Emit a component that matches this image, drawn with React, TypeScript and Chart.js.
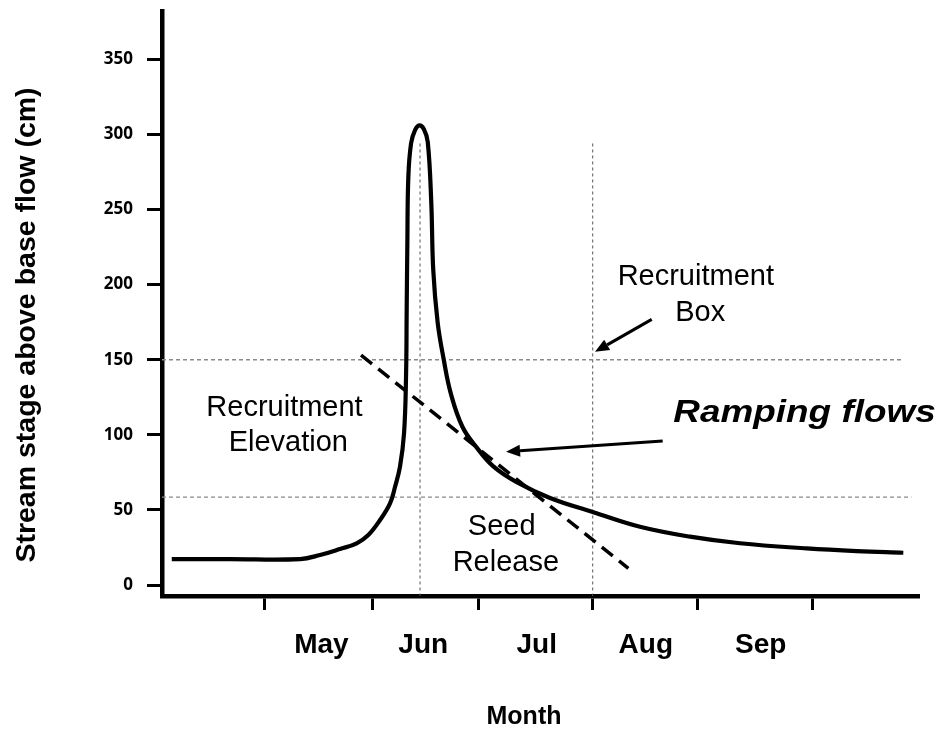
import React, { useEffect, useRef } from "react";
import { Chart, registerables } from "chart.js";

Chart.register(...registerables);

// ---- Axis definitions (x in months, 1 = start of May) ----
const monthLabels = ["May", "Jun", "Jul", "Aug", "Sep"];
const monthLabelPositions = [1.52, 2.449, 3.484, 4.478, 5.526];
const monthBoundaries = [1.0, 1.985, 2.952, 3.995, 4.952, 6.0];
const yTickValues = [0, 50, 100, 150, 200, 250, 300, 350];
const xRange = [0.067, 6.969];
const yRange = [-7.3, 382.2];

// ---- Hydrograph (stream stage above base flow, cm) ----
const flowX = [
  0.156, 0.687, 1.326, 1.508, 1.69, 1.842, 1.948, 2.055, 2.146, 2.192, 2.237,
  2.274, 2.292, 2.298, 2.304, 2.313, 2.338, 2.374, 2.413, 2.455, 2.49, 2.522,
  2.54, 2.58, 2.636, 2.7, 2.806, 2.937, 3.088, 3.301, 3.605, 4.0, 4.425,
  4.881, 5.337, 5.945, 6.401, 6.826,
];
const flowY = [
  17.3, 17.3, 17.3, 20.0, 24.0, 27.8, 33.3, 43.3, 54.4, 65.4, 78.8, 101.2,
  138.7, 183.1, 227.7, 271.8, 294.1, 302.9, 306.0, 303.5, 295.0, 255.0, 210.0,
  175.0, 150.0, 127.6, 105.4, 91.5, 79.0, 68.5, 58.0, 48.5, 38.8, 32.2, 27.8,
  24.4, 22.6, 21.5,
];

// ---- Reference levels / times ----
const recruitmentElevation = 150;
const seedReleaseLevel = 58.5;
const peakTime = 2.4196;
const recruitmentBoxTime = 3.994;
const refLineTop = 294;
const upperRefEnd = 6.83;
const lowerRefEnd = 6.9;

// ---- Ramping-rate dashed line ----
const rampX = [1.882, 4.319];
const rampY = [153.1, 11.1];

// ---- Arrows (data coordinates: from -> tip) ----
const arrowFromX = [4.532, 4.632];
const arrowFromY = [176.9, 95.9];
const arrowTipX = [4.015, 3.204];
const arrowTipY = [155.3, 88.7];

// ---- Text annotations ----
const noteTexts = ["Recruitment", "Elevation", "Recruitment", "Box", "Seed", "Release", "Ramping flows"];
const noteX = [1.184, 1.219, 4.934, 4.974, 3.164, 3.202, 5.925];
const noteY = [112.5, 89.2, 199.7, 175.8, 33.3, 9.3, 108.7];

const SANS = "'Liberation Sans', Arial, Helvetica, sans-serif";

const annotationPlugin = {
  id: "sketchAnnotations",
  afterDatasetsDraw(chart: any) {
    const { ctx, scales } = chart;
    const xs = scales.x;
    const ys = scales.y;
    ctx.save();
    // arrows
    ctx.strokeStyle = "#000";
    ctx.fillStyle = "#000";
    ctx.lineWidth = 3;
    for (let i = 0; i < arrowFromX.length; i++) {
      const x1 = xs.getPixelForValue(arrowFromX[i]);
      const y1 = ys.getPixelForValue(arrowFromY[i]);
      const x2 = xs.getPixelForValue(arrowTipX[i]);
      const y2 = ys.getPixelForValue(arrowTipY[i]);
      const ang = Math.atan2(y2 - y1, x2 - x1);
      const headLen = 14;
      const headW = 6;
      const bx = x2 - headLen * Math.cos(ang);
      const by = y2 - headLen * Math.sin(ang);
      ctx.beginPath();
      ctx.moveTo(x1, y1);
      ctx.lineTo(bx, by);
      ctx.stroke();
      ctx.beginPath();
      ctx.moveTo(x2, y2);
      ctx.lineTo(bx + headW * Math.sin(ang), by - headW * Math.cos(ang));
      ctx.lineTo(bx - headW * Math.sin(ang), by + headW * Math.cos(ang));
      ctx.closePath();
      ctx.fill();
    }
    // notes
    ctx.textAlign = "center";
    ctx.textBaseline = "alphabetic";
    for (let i = 0; i < noteTexts.length; i++) {
      const px = xs.getPixelForValue(noteX[i]);
      const py = ys.getPixelForValue(noteY[i]);
      const ramp = noteTexts[i] === "Ramping flows";
      ctx.font = ramp ? `italic bold 31px ${SANS}` : `29px ${SANS}`;
      ctx.save();
      ctx.translate(px, py);
      if (ramp) ctx.scale(1.19, 1);
      ctx.fillText(noteTexts[i], 0, 0);
      ctx.restore();
    }
    ctx.restore();
  },
  afterDraw(chart: any) {
    const { ctx, chartArea } = chart;
    ctx.save();
    ctx.fillStyle = "#000";
    // x-axis title
    ctx.font = `bold 25px ${SANS}`;
    ctx.textAlign = "center";
    ctx.textBaseline = "alphabetic";
    ctx.fillText("Month", chartArea.left + 362, chartArea.bottom + 128);
    // y-axis title
    ctx.translate(27, chartArea.top + 314);
    ctx.rotate(-Math.PI / 2);
    ctx.font = `bold 28.5px ${SANS}`;
    ctx.textBaseline = "middle";
    ctx.fillText("Stream stage above base flow (cm)", 0, 0);
    ctx.restore();
  },
};

export default function App() {
  const canvasRef = useRef<HTMLCanvasElement | null>(null);

  useEffect(() => {
    const canvas = canvasRef.current;
    if (!canvas) return;

    const flowData = flowX.map((v, i) => ({ x: v, y: flowY[i] }));
    const rampData = rampX.map((v, i) => ({ x: v, y: rampY[i] }));
    const refStyle = {
      borderColor: "#8a8a8a",
      borderWidth: 1.3,
      borderDash: [4, 3],
      pointRadius: 0,
      tension: 0,
      fill: false,
    };
    const vStyle = {
      borderColor: "#555",
      borderWidth: 1,
      borderDash: [3, 3],
      pointRadius: 0,
      tension: 0,
      fill: false,
    };

    const chart = new Chart(canvas, {
      type: "line",
      data: {
        datasets: [
          {
            label: "Stream stage",
            data: flowData,
            borderColor: "#000",
            borderWidth: 4.2,
            pointRadius: 0,
            tension: 0.4,
            fill: false,
            order: 0,
          },
          {
            label: "Ramping rate",
            data: rampData,
            borderColor: "#000",
            borderWidth: 3.5,
            borderDash: [14, 8],
            pointRadius: 0,
            tension: 0,
            fill: false,
            order: 1,
          },
          {
            label: "Recruitment elevation",
            data: [
              { x: xRange[0], y: recruitmentElevation },
              { x: upperRefEnd, y: recruitmentElevation },
            ],
            ...refStyle,
            order: 2,
          },
          {
            label: "Seed release level",
            data: [
              { x: xRange[0], y: seedReleaseLevel },
              { x: lowerRefEnd, y: seedReleaseLevel },
            ],
            ...refStyle,
            order: 3,
          },
          {
            label: "Peak",
            data: [
              { x: peakTime, y: refLineTop },
              { x: peakTime, y: yRange[0] },
            ],
            ...vStyle,
            order: 4,
          },
          {
            label: "Recruitment box",
            data: [
              { x: recruitmentBoxTime, y: refLineTop },
              { x: recruitmentBoxTime, y: yRange[0] },
            ],
            ...vStyle,
            order: 5,
          },
        ] as any,
      },
      options: {
        animation: false,
        responsive: true,
        maintainAspectRatio: false,
        layout: { padding: { top: 11, right: 21, left: 0, bottom: 0 } },
        plugins: {
          legend: { display: false },
          tooltip: { enabled: false },
        },
        scales: {
          x: {
            type: "linear",
            min: xRange[0],
            max: xRange[1],
            afterBuildTicks: (scale: any) => {
              const vals = [...monthBoundaries, ...monthLabelPositions].sort((a, b) => a - b);
              scale.ticks = vals.map((v) => ({ value: v }));
            },
            afterFit: (scale: any) => {
              scale.height = 133;
              scale.paddingLeft = 0;
              scale.paddingRight = 0;
            },
            ticks: {
              autoSkip: false,
              maxRotation: 0,
              minRotation: 0,
              padding: 18,
              color: "#000",
              font: { family: SANS, weight: "bold", size: 28 },
              callback: (value: any) => {
                const i = monthLabelPositions.indexOf(Number(value));
                return i >= 0 ? monthLabels[i] : "";
              },
            },
            grid: {
              drawOnChartArea: false,
              drawTicks: true,
              tickLength: 14,
              tickWidth: 3,
              tickColor: (ctx: any) =>
                ctx.tick && monthBoundaries.includes(ctx.tick.value) ? "#000" : "rgba(0,0,0,0)",
            },
            border: { display: true, color: "#000", width: 4.5 },
          },
          y: {
            type: "linear",
            min: yRange[0],
            max: yRange[1],
            afterBuildTicks: (scale: any) => {
              scale.ticks = yTickValues.map((v) => ({ value: v }));
            },
            afterFit: (scale: any) => {
              scale.width = 162;
              scale.paddingTop = 0;
              scale.paddingBottom = 0;
            },
            ticks: {
              padding: 14,
              color: "#000",
              font: { family: "'Open Sans', 'Liberation Sans', sans-serif", weight: "bold", size: 17 },
            },
            grid: {
              drawOnChartArea: false,
              drawTicks: true,
              tickLength: 15,
              tickWidth: 3,
              tickColor: "#000",
            },
            border: { display: true, color: "#000", width: 4.5 },
          },
        },
      } as any,
      plugins: [annotationPlugin],
    });

    return () => chart.destroy();
  }, []);

  return (
    <div
      style={{
        position: "fixed",
        left: 0,
        top: 0,
        width: 940,
        height: 729,
        background: "#fff",
      }}
    >
      <canvas ref={canvasRef} style={{ display: "block" }} />
    </div>
  );
}
